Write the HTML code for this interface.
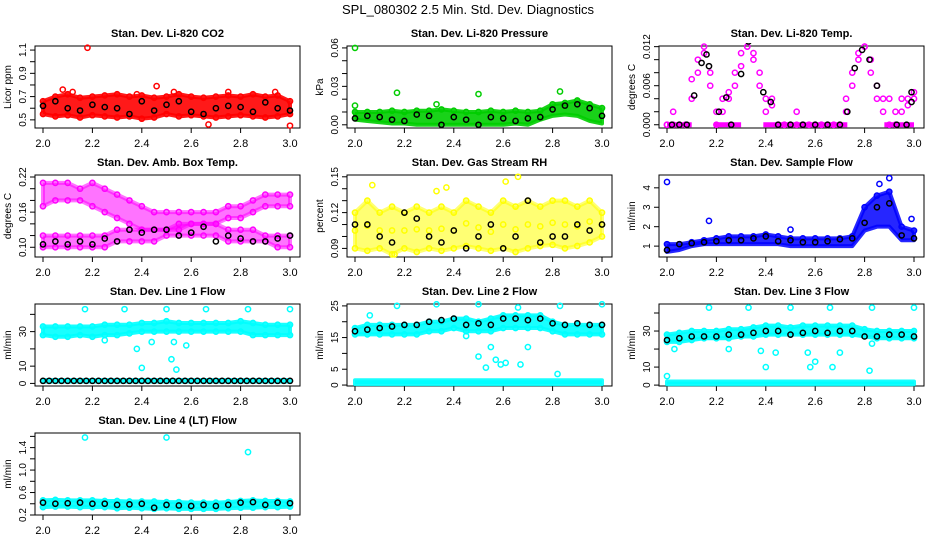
<!DOCTYPE html>
<html><head><meta charset="utf-8"><style>
body{margin:0;background:#fff;}
svg{display:block;font-family:"Liberation Sans",Arial,sans-serif;}
</style></head><body>
<svg id="chart" width="936" height="540" viewBox="0 0 936 540">
<rect width="936" height="540" fill="#fff"/>
<text x="468" y="14" text-anchor="middle" font-size="13">SPL_080302  2.5 Min. Std. Dev. Diagnostics</text>
</svg>
<script>
// ---- data ----
const xs21 = [2.00,2.05,2.10,2.15,2.20,2.25,2.30,2.35,2.40,2.45,2.50,2.55,2.60,2.65,2.70,2.75,2.80,2.85,2.90,2.95,3.00];
const xs41 = [2.000,2.025,2.050,2.075,2.100,2.125,2.150,2.175,2.200,2.225,2.250,2.275,2.300,2.325,2.350,2.375,2.400,2.425,2.450,2.475,2.500,2.525,2.550,2.575,2.600,2.625,2.650,2.675,2.700,2.725,2.750,2.775,2.800,2.825,2.850,2.875,2.900,2.925,2.950,2.975,3.000];
const xTicks = [2.0,2.2,2.4,2.6,2.8,3.0];
const xTickLabels = ["2.0","2.2","2.4","2.6","2.8","3.0"];

const co2Hi = [0.66,0.70,0.72,0.69,0.70,0.71,0.72,0.70,0.71,0.69,0.70,0.72,0.70,0.69,0.70,0.71,0.70,0.72,0.70,0.71,0.66];
const co2Lo = [0.55,0.53,0.54,0.52,0.54,0.53,0.52,0.53,0.51,0.52,0.55,0.53,0.54,0.53,0.52,0.53,0.54,0.53,0.52,0.53,0.55];
const co2Black = [0.62,0.66,0.60,0.58,0.63,0.61,0.60,0.55,0.66,0.58,0.63,0.66,0.57,0.55,0.60,0.62,0.61,0.57,0.65,0.60,0.58];
const co2OutX = [2.18,2.08,2.46,2.53,2.75,2.94,3.00,2.67,2.12,2.38];
const co2OutY = [1.12,0.76,0.79,0.74,0.74,0.74,0.45,0.46,0.74,0.72];

const presHi = [0.010,0.010,0.010,0.011,0.010,0.011,0.011,0.012,0.011,0.010,0.010,0.011,0.010,0.011,0.010,0.011,0.016,0.017,0.019,0.016,0.013];
const presLo = [0.004,0.003,0.002,0.001,0.001,0.000,0.000,0.000,0.000,0.000,0.000,0.000,0.000,0.001,0.000,0.004,0.007,0.008,0.007,0.003,0.001];
const presBlack = [0.005,0.007,0.006,0.004,0.003,0.008,0.007,0.000,0.006,0.004,0.000,0.006,0.005,0.003,0.005,0.006,0.012,0.015,0.016,0.013,0.007];
const presOutX = [2.00,2.00,2.17,2.50,2.83,2.33];
const presOutY = [0.060,0.015,0.025,0.024,0.026,0.016];

const tempMag = [0.000,0.002,0.000,0.000,0.004,0.008,0.011,0.008,0.002,0.002,0.004,0.006,0.009,0.012,0.011,0.008,0.004,0.003,0.000,0.000,0.000,0.002,0.000,0.000,0.000,0.000,0.000,0.000,0.000,0.002,0.006,0.010,0.012,0.010,0.006,0.004,0.004,0.002,0.004,0.004,0.004];
const tempMag2 = [0.000,0.000,0.000,0.000,0.007,0.010,0.012,0.006,0.000,0.004,0.005,0.008,0.011,0.012,0.010,0.006,0.002,0.004,0.000,0.000,0.000,0.000,0.000,0.000,0.000,0.000,0.000,0.000,0.000,0.004,0.008,0.011,0.012,0.008,0.004,0.002,0.000,0.000,0.002,0.003,0.005];
const tempZeroStart = [2.00,2.19,2.39,2.88];
const tempZeroEnd = [2.10,2.30,2.73,3.00];
const tempBlackX = [2.02,2.05,2.08,2.11,2.14,2.16,2.17,2.21,2.24,2.26,2.30,2.33,2.39,2.42,2.45,2.50,2.55,2.60,2.65,2.70,2.73,2.76,2.79,2.82,2.85,2.93,2.97,2.99,2.99];
const tempBlackY = [0.000,0.000,0.000,0.0045,0.0095,0.0108,0.009,0.002,0.0042,0.000,0.0078,0.0128,0.005,0.0035,0.000,0.000,0.000,0.000,0.000,0.000,0.002,0.0087,0.0115,0.010,0.006,0.000,0.000,0.005,0.0035];

const ambUpHi = [0.21,0.21,0.21,0.20,0.21,0.20,0.19,0.18,0.17,0.16,0.16,0.16,0.16,0.16,0.16,0.17,0.17,0.18,0.19,0.19,0.19];
const ambUpLo = [0.17,0.18,0.18,0.18,0.17,0.16,0.15,0.14,0.13,0.13,0.13,0.13,0.14,0.14,0.14,0.15,0.15,0.16,0.17,0.17,0.17];
const ambLowHi = [0.12,0.12,0.12,0.12,0.12,0.12,0.13,0.13,0.13,0.13,0.13,0.14,0.14,0.14,0.14,0.13,0.13,0.13,0.12,0.12,0.12];
const ambLowLo = [0.10,0.10,0.10,0.10,0.10,0.10,0.11,0.11,0.11,0.11,0.12,0.12,0.12,0.12,0.12,0.11,0.11,0.11,0.11,0.10,0.10];
const ambBlack = [0.105,0.11,0.105,0.11,0.105,0.115,0.11,0.13,0.125,0.13,0.13,0.12,0.125,0.135,0.11,0.12,0.115,0.11,0.11,0.115,0.12];

const rhHi = [0.12,0.13,0.12,0.125,0.12,0.125,0.12,0.125,0.12,0.13,0.125,0.12,0.13,0.125,0.13,0.125,0.13,0.13,0.125,0.13,0.12];
const rhLo = [0.09,0.088,0.09,0.085,0.09,0.087,0.09,0.088,0.09,0.092,0.09,0.088,0.09,0.087,0.09,0.092,0.093,0.09,0.092,0.095,0.10];
const rhBlack = [0.11,0.11,0.10,0.095,0.12,0.115,0.10,0.095,0.105,0.09,0.10,0.11,0.09,0.10,0.13,0.095,0.10,0.10,0.11,0.105,0.11];
const rhOutX = [2.07,2.61,2.66,2.37,2.33,2.16];
const rhOutY = [0.143,0.146,0.150,0.141,0.138,0.085];

const flowHi = [1.1,1.1,1.2,1.3,1.4,1.5,1.5,1.5,1.6,1.5,1.4,1.4,1.4,1.4,1.4,1.5,3.0,3.6,3.8,2.0,1.8];
const flowLo = [0.7,0.8,1.0,1.1,1.1,1.1,1.1,1.1,1.1,1.1,1.0,1.0,1.0,1.0,1.0,1.0,1.8,2.0,2.0,1.3,1.3];
const flowBlack = [0.8,1.1,1.15,1.2,1.25,1.3,1.3,1.4,1.5,1.25,1.3,1.2,1.2,1.25,1.35,1.4,2.2,3.0,3.2,1.55,1.4];
const flowOutX = [2.00,2.17,2.50,2.90,2.86,2.99];
const flowOutY = [4.3,2.3,1.85,4.5,4.2,2.4];

const l1Hi = [33,33,33,33,33,34,34,34,35,35,36,35,35,35,35,35,36,35,34,34,34];
const l1Lo = [28,27,27,28,27,28,28,29,30,30,30,30,30,30,30,30,30,28,28,28,28];
const l1BaseHi = [2,2,2,2,2,2,2,2,2,2,2,2,2,2,2,2,2,2,2,2,2];
const l1BaseLo = [1,1,1,1,1,1,1,1,1,1,1,1,1,1,1,1,1,1,1,1,1];
const l1Black = [1.5,1.5,1.5,1.5,1.5,1.5,1.5,1.5,1.5,1.5,1.5,1.5,1.5,1.5,1.5,1.5,1.5,1.5,1.5,1.5,1.5];
const l1OutX = [2.17,2.33,2.50,2.66,2.83,3.00,2.38,2.40,2.52,2.54,2.53,2.58,2.25,2.44];
const l1OutY = [43,43,43,43,43,43,20,9,14,8,24,22,25,24];

const l2Hi = [18,19,19,19,19,19,20,20,21,21,20,21,22,22,22,22,20,19,19,19,19];
const l2Lo = [16,16,16,16,16,16,17,17,18,17,17,17,18,18,18,18,17,16,16,16,16];
const l2BaseHi = [1.5,1.5,1.5,1.5,1.5,1.5,1.5,1.5,1.5,1.5,1.5,1.5,1.5,1.5,1.5,1.5,1.5,1.5,1.5,1.5,1.5];
const l2BaseLo = [0.3,0.3,0.3,0.3,0.3,0.3,0.3,0.3,0.3,0.3,0.3,0.3,0.3,0.3,0.3,0.3,0.3,0.3,0.3,0.3,0.3];
const l2Black = [17,17.5,18,18.5,19,19,20,20.5,21,19,19.5,19,21,21,20.5,21,19.5,19,19.5,19,19];
const l2OutX = [2.17,2.33,2.50,2.66,2.83,3.00,2.06,2.50,2.53,2.55,2.57,2.59,2.61,2.67,2.70,2.82,2.45];
const l2OutY = [25,25.5,25.5,24.5,25,25.5,22,9,5.5,12,8,6.5,7,6.5,12,3.5,15.5];

const l3Hi = [28,29,30,30,30,31,31,32,33,33,32,33,33,33,33,33,31,30,30,30,30];
const l3Lo = [24,24,25,26,26,26,27,27,28,28,28,28,28,28,28,28,27,26,26,26,26];
const l3BaseHi = [2,2,2,2,2,2,2,2,2,2,2,2,2,2,2,2,2,2,2,2,2];
const l3BaseLo = [0.5,0.5,0.5,0.5,0.5,0.5,0.5,0.5,0.5,0.5,0.5,0.5,0.5,0.5,0.5,0.5,0.5,0.5,0.5,0.5,0.5];
const l3Black = [25,26,27,27,27,28,28,29,30,30,28,29,30,29,30,30,27,27,28,28,27];
const l3OutX = [2.17,2.33,2.50,2.66,2.83,3.00,2.00,2.25,2.38,2.40,2.44,2.57,2.58,2.60,2.67,2.70,2.82,2.83,2.03];
const l3OutY = [43,43,43,43,43,43,5,20,19,10,18,18,10,13,10,18,8,23,20];

const l4Hi = [0.46,0.47,0.46,0.46,0.46,0.45,0.45,0.44,0.44,0.44,0.43,0.43,0.42,0.42,0.42,0.43,0.45,0.46,0.45,0.45,0.44];
const l4Lo = [0.34,0.35,0.35,0.34,0.34,0.34,0.32,0.33,0.32,0.31,0.32,0.31,0.31,0.31,0.31,0.32,0.33,0.33,0.34,0.34,0.35];
const l4Black = [0.42,0.40,0.41,0.42,0.40,0.40,0.38,0.39,0.40,0.33,0.38,0.37,0.36,0.38,0.36,0.38,0.42,0.43,0.38,0.42,0.41];
const l4OutX = [2.17,2.50,2.83];
const l4OutY = [1.58,1.58,1.32];

// ---- drawing ----
const svg = document.getElementById('chart');
const NS = 'http://www.w3.org/2000/svg';
function mk(tag, attrs, parent){
  const e = document.createElementNS(NS, tag);
  for (const k in attrs) e.setAttribute(k, attrs[k]);
  (parent||svg).appendChild(e);
  return e;
}
const RED='#ff0000', GRN='#00cd00', MAG='#ff00ff', YEL='#ffff00', BLU='#0000ff', CYA='#00ffff', BLK='#000000';

function panel(col,row,title,yLabel,yMin,yMax,yTicks,yTickLabels,name){
  const left=35+312*col, right=300+312*col, bottom=128+129*row, top=bottom-82;
  const x0=43+312*col, x1=290+312*col;
  const g = mk('g',{});
  
  
  const sx = v => x0 + (v-2)*(x1-x0);
  const sy = v => bottom - (v-yMin)/(yMax-yMin)*(bottom-top);
  const box = mk('rect',{x:left,y:top,width:right-left,height:bottom-top,fill:'none',stroke:'#000','stroke-width':1},g);
  
  
  const t = mk('text',{x:(left+right)/2,y:top-9,'text-anchor':'middle','font-size':11,'font-weight':'bold'},g);
  t.textContent = title;
  
  
  const xa = mk('g',{},g);
  
  
  mk('line',{x1:sx(2),x2:sx(3),y1:bottom,y2:bottom,stroke:'#000'},xa);
  xTicks.forEach((v,i)=>{
    mk('line',{x1:sx(v),x2:sx(v),y1:bottom,y2:bottom+5,stroke:'#000'},xa);
    const tl = mk('text',{x:sx(v),y:bottom+19,'text-anchor':'middle','font-size':11},xa);
    tl.textContent = xTickLabels[i];
    
    
  });
  const ya = mk('g',{},g);
  
  
  yTicks.forEach((v,i)=>{
    mk('line',{x1:left-5,x2:left,y1:sy(v),y2:sy(v),stroke:'#000'},ya);
    if (yTickLabels[i]) {
      const tl = mk('text',{x:left-9,y:sy(v),'text-anchor':'middle','font-size':10,transform:`rotate(-90 ${left-9} ${sy(v)})`},ya);
      tl.textContent = yTickLabels[i];
      
      
    }
  });
  const yl = mk('text',{x:left-24,y:(top+bottom)/2,'text-anchor':'middle','font-size':10,transform:`rotate(-90 ${left-24} ${(top+bottom)/2})`},ya);
  yl.textContent = yLabel;
  
  
  const clip = 'clip'+col+row;
  const cp = mk('clipPath',{id:clip},g);
  mk('rect',{x:left,y:top-3,width:right-left,height:bottom-top+6},cp);
  const data = mk('g',{'clip-path':`url(#${clip})`},g);
  
  
  return {sx,sy,g:data};
}
function band(p,xs,hi,lo,color,op){
  let d='';
  xs.forEach((x,i)=>{d+=(i?'L':'M')+p.sx(x)+','+p.sy(hi[i]);});
  for(let i=xs.length-1;i>=0;i--) d+='L'+p.sx(xs[i])+','+p.sy(lo[i]);
  const e = mk('path',{d:d+'Z',fill:color,'fill-opacity':op,stroke:color,'stroke-width':4,'stroke-opacity':op,'stroke-linejoin':'round'},p.g);
  
  
}
function pts(p,xs,ys,color){
  xs.forEach((x,i)=>{
    if (ys[i]===null) return;
    const c = mk('circle',{cx:p.sx(x),cy:p.sy(ys[i]),r:2.6,fill:'none',stroke:color,'stroke-width':1.5},p.g);
    
    
  });
}
function mids(hi,lo){ return hi.map((h,i)=>(h+lo[i])/2); }

// Panel 1
let p = panel(0,0,'Stan. Dev. Li-820 CO2','Licor ppm',0.43,1.135,[0.5,0.6,0.7,0.8,0.9,1.0,1.1],['0.5','','0.7','','0.9','','1.1'],'co2');
band(p,xs21,co2Hi,co2Lo,RED,0.9); pts(p,xs21,co2Hi,RED); pts(p,xs21,co2Lo,RED); pts(p,co2OutX,co2OutY,RED); pts(p,xs21,co2Black,BLK);
// Panel 2
p = panel(1,0,'Stan. Dev. Li-820 Pressure','kPa',-0.0025,0.0615,[0,0.01,0.02,0.03,0.04,0.05,0.06],['0.00','','','0.03','','','0.06'],'pressure');
band(p,xs21,presHi,presLo,GRN,0.9); pts(p,xs21,presHi,GRN); pts(p,presOutX,presOutY,GRN); pts(p,xs21,presBlack,BLK);
// Panel 3
p = panel(2,0,'Stan. Dev. Li-820 Temp.','degrees C',-0.0005,0.0121,[0,0.002,0.004,0.006,0.008,0.010,0.012],['0.000','','','0.006','','','0.012'],'temp');
tempZeroStart.forEach((s,i)=>{
  const l = mk('line',{x1:p.sx(s),x2:p.sx(tempZeroEnd[i]),y1:p.sy(0),y2:p.sy(0),stroke:MAG,'stroke-width':5},p.g);
  
  
});
pts(p,xs41,tempMag,MAG); pts(p,xs41,tempMag2,MAG); pts(p,tempBlackX,tempBlackY,BLK);
// Panel 4
p = panel(0,1,'Stan. Dev. Amb. Box Temp.','degrees C',0.0834,0.2234,[0.10,0.12,0.14,0.16,0.18,0.20,0.22],['0.10','','','0.16','','','0.22'],'amb-temp');
band(p,xs21,ambUpHi,ambUpLo,MAG,0.55); band(p,xs21,ambLowHi,ambLowLo,MAG,0.55);
pts(p,xs21,ambUpHi,MAG); pts(p,xs21,ambUpLo,MAG); pts(p,xs21,ambLowHi,MAG); pts(p,xs21,ambLowLo,MAG); pts(p,xs21,ambBlack,BLK);
// Panel 5
p = panel(1,1,'Stan. Dev. Gas Stream RH','percent',0.0828,0.1515,[0.09,0.10,0.11,0.12,0.13,0.14,0.15],['0.09','','','0.12','','','0.15'],'rh');
band(p,xs21,rhHi,rhLo,YEL,0.55); pts(p,xs21,rhHi,YEL); pts(p,xs21,rhLo,YEL); pts(p,xs21,mids(rhHi,rhLo),YEL); pts(p,rhOutX,rhOutY,YEL); pts(p,xs21,rhBlack,BLK);
// Panel 6
p = panel(2,1,'Stan. Dev. Sample Flow','ml/min',0.44,4.66,[1,2,3,4],['1','2','3','4'],'sample-flow');
band(p,xs21,flowHi,flowLo,BLU,0.85); pts(p,xs21,flowHi,BLU); pts(p,flowOutX,flowOutY,BLU); pts(p,xs21,flowBlack,BLK);
// Panel 7
p = panel(0,2,'Stan. Dev. Line 1 Flow','ml/min',-1.5,46,[0,10,20,30,40],['0','10','','30',''],'line1');
band(p,xs21,l1Hi,l1Lo,CYA,0.9); band(p,xs21,l1BaseHi,l1BaseLo,CYA,0.9); pts(p,xs21,l1Hi,CYA); pts(p,xs21,l1Lo,CYA); pts(p,l1OutX,l1OutY,CYA);
pts(p,xs41,xs41.map(()=>1.5),BLK);
// Panel 8
p = panel(1,2,'Stan. Dev. Line 2 Flow','ml/min',-0.3,25.6,[0,5,10,15,20,25],['0','5','','15','','25'],'line2');
band(p,xs21,l2Hi,l2Lo,CYA,0.9); band(p,xs21,l2BaseHi,l2BaseLo,CYA,0.9); pts(p,xs21,l2Hi,CYA); pts(p,xs21,l2Lo,CYA); pts(p,l2OutX,l2OutY,CYA); pts(p,xs21,l2Black,BLK);
// Panel 9
p = panel(2,2,'Stan. Dev. Line 3 Flow','ml/min',-0.5,45,[0,10,20,30,40],['0','10','','30',''],'line3');
band(p,xs21,l3Hi,l3Lo,CYA,0.9); band(p,xs21,l3BaseHi,l3BaseLo,CYA,0.9); pts(p,xs21,l3Hi,CYA); pts(p,xs21,l3Lo,CYA); pts(p,l3OutX,l3OutY,CYA); pts(p,xs21,l3Black,BLK);
// Panel 10
p = panel(0,3,'Stan. Dev. Line 4 (LT) Flow','ml/min',0.2,1.66,[0.2,0.4,0.6,0.8,1.0,1.2,1.4,1.6],['0.2','','0.6','','1.0','','1.4',''],'line4');
band(p,xs21,l4Hi,l4Lo,CYA,0.9); pts(p,xs21,l4Hi,CYA); pts(p,xs21,l4Lo,CYA); pts(p,l4OutX,l4OutY,CYA); pts(p,xs21,l4Black,BLK);
</script>
</body></html>
